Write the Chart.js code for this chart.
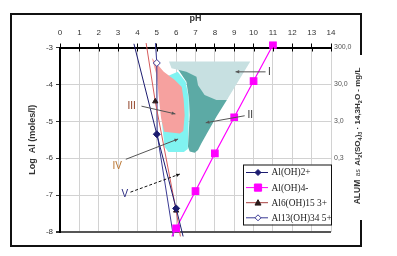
<!DOCTYPE html>
<html>
<head>
<meta charset="utf-8">
<script src="https://cdn.jsdelivr.net/npm/chart.js@4.4.1/dist/chart.umd.min.js"></script>
<style>
  body { margin: 0; background: #fff; }
  #chartCont { width: 397px; height: 256px; }
</style>
</head>
<body>
<div id="chartCont"><canvas id="myChart" width="397" height="256"></canvas></div>
<script>
// right hand scale: alum dose at the same gridlines as log Al
const alumTickValues = [-3, -4, -5, -6];
const alumTickLabels = ["300,0", "30,0", "3,0", "0,3"];

// species lines, pH vs log Al
const phAlOH2 = [3.82, 5.0, 6.0, 6.36];
const logAlOH2 = [-2.9, -5.35, -7.36, -8.12];
const phAlOH4 = [5.78, 6, 7, 8, 9, 10, 11];
const logAlOH4 = [-8.12, -7.9, -6.89, -5.87, -4.89, -3.91, -2.93];
const phAl6 = [4.45, 4.92, 6.0, 6.22];
const logAl6 = [-2.88, -4.46, -7.42, -8.12];
const phAl13 = [4.93, 5.0, 5.02, 5.86];
const logAl13 = [-2.88, -3.42, -5.35, -8.12];

// coagulation zones (outline points, pH / log Al)
const zone1X = [5.63, 9.83, 8.62, 8.08, 7.47, 7.13, 7.05, 6.53, 5.76];
const zone1Y = [-3.38, -3.38, -4.42, -4.42, -4.29, -4.02, -3.79, -3.66, -3.56];
const zone2X = [5.98, 6.53, 6.66, 6.70, 6.61, 6.70, 6.96, 7.13, 7.30, 7.64, 8.08, 8.62, 9.0, 7.5];
const zone2Y = [-3.5, -3.93, -4.38, -4.83, -5.69, -5.82, -5.85, -5.78, -5.6, -5.28, -4.88, -4.42, -3.6, -3.4];
const zone3X = [4.74, 5.0, 5.12, 5.22, 5.38, 6.19, 6.37, 6.44, 6.39, 6.29, 5.93, 5.36];
const zone3Y = [-3.28, -3.77, -4.42, -4.91, -5.28, -5.33, -5.26, -4.83, -4.42, -4.07, -3.88, -3.66];
const zone4X = [5.3, 5.4, 5.6, 6.4, 6.6, 6.65, 6.65, 6.49, 6.08, 5.57, 5.2];
const zone4Y = [-5.2, -5.69, -5.83, -5.83, -5.75, -4.96, -4.37, -3.93, -3.66, -3.77, -4.4];

// zone labels and their pointer lines
const noteText = ["I", "II", "III", "IV", "V"];
const noteTextX = [10.82, 9.83, 3.7, 2.95, 3.35];
const noteTextY = [-3.66, -4.83, -4.6, -6.23, -6.98];
const noteFromX = [10.62, 9.54, 4.21, 3.4, 3.64];
const noteFromY = [-3.66, -4.85, -4.59, -6.03, -6.92];
const noteToX = [9.07, 7.53, 5.96, 6.1, 6.19];
const noteToY = [-3.66, -5.04, -4.8, -5.48, -6.43];

const FONT = "'Liberation Sans', Arial, sans-serif";

function toPoints(xs, ys) {
  return xs.map((x, i) => ({ x: x, y: ys[i] }));
}

function markersAt(list, r) {
  return (c) => (list.includes(c.dataIndex) ? r : 0);
}

function alumLabel(v) {
  const i = alumTickValues.indexOf(v);
  return i >= 0 ? alumTickLabels[i] : "";
}

function zone(xs, ys, color) {
  return {
    data: toPoints(xs, ys),
    showLine: true,
    fill: "shape",
    backgroundColor: color,
    borderColor: "rgba(0,0,0,0)",
    borderWidth: 0,
    pointRadius: 0,
  };
}

function drawMarker(ctx, style, x, y, r) {
  ctx.beginPath();
  if (style === "rectRot") {
    ctx.moveTo(x, y - r); ctx.lineTo(x + r, y); ctx.lineTo(x, y + r); ctx.lineTo(x - r, y);
  } else if (style === "rect") {
    ctx.rect(x - r, y - r, 2 * r, 2 * r);
  } else {
    ctx.moveTo(x, y - r); ctx.lineTo(x + r, y + r * 0.8); ctx.lineTo(x - r, y + r * 0.8);
  }
  ctx.closePath();
  ctx.fill();
  ctx.stroke();
}

const datasets = [
  {
    label: "Al(OH)2+",
    data: toPoints(phAlOH2, logAlOH2),
    showLine: true,
    borderColor: "#1c1c70",
    borderWidth: 1,
    pointStyle: "rectRot",
    pointBackgroundColor: "#1c1c70",
    pointBorderColor: "#1c1c70",
    pointRadius: markersAt([1, 2], 3.5),
    clip: 6,
  },
  {
    label: "Al(OH)4-",
    data: toPoints(phAlOH4, logAlOH4),
    showLine: true,
    borderColor: "#ff00ff",
    borderWidth: 1.2,
    pointStyle: "rect",
    pointBackgroundColor: "#ff00ff",
    pointBorderColor: "#ff00ff",
    pointRadius: markersAt([1, 2, 3, 4, 5, 6], 4.6),
    clip: 6,
  },
  {
    label: "Al6(OH)15 3+",
    data: toPoints(phAl6, logAl6),
    showLine: true,
    borderColor: "#d65c5c",
    borderWidth: 1,
    pointStyle: "triangle",
    pointBackgroundColor: "#2a1a1a",
    pointBorderColor: "#2a1a1a",
    pointRadius: markersAt([1, 2], 3),
    clip: 6,
  },
  {
    label: "Al13(OH)34 5+",
    data: toPoints(phAl13, logAl13),
    showLine: true,
    borderColor: "#3a3a94",
    borderWidth: 1,
    pointStyle: "rectRot",
    pointBackgroundColor: "#ffffff",
    pointBorderColor: "#3a3a94",
    pointBorderWidth: 1,
    pointRadius: markersAt([1], 3.5),
    clip: 6,
  },
  zone(zone3X, zone3Y, "#f6a19f"),
  zone(zone1X, zone1Y, "#c7e0e1"),
  zone(zone2X, zone2Y, "#5caaa5"),
  zone(zone4X, zone4Y, "#80f3f1"),
];

// legend box sitting inside the plot, bottom right
const legendPlugin = {
  id: "boxLegend",
  afterDraw(chart) {
    const ctx = chart.ctx;
    const area = chart.chartArea;
    const w = 88, h = 60;
    const x0 = area.right - w, y0 = area.top + 117;
    ctx.save();
    ctx.fillStyle = "#fff";
    ctx.fillRect(x0, y0, w, h);
    ctx.strokeStyle = "#111";
    ctx.lineWidth = 1;
    ctx.strokeRect(x0 + 0.5, y0 + 0.5, w, h);
    const lineCols = ["#1c1c70", "#ff00ff", "#a84040", "#3a3a94"];
    for (let i = 0; i < 4; i++) {
      const ds = chart.data.datasets[i];
      const y = y0 + 8 + i * 15.1;
      ctx.strokeStyle = lineCols[i];
      ctx.lineWidth = 1;
      ctx.beginPath();
      ctx.moveTo(x0 + 3, y);
      ctx.lineTo(x0 + 25, y);
      ctx.stroke();
      ctx.fillStyle = ds.pointBackgroundColor;
      ctx.strokeStyle = ds.pointBorderColor;
      drawMarker(ctx, ds.pointStyle, x0 + 15, y, i === 1 ? 3.6 : 3);
      ctx.fillStyle = "#222";
      ctx.font = "9.4px 'Liberation Serif', 'Times New Roman', serif";
      ctx.textBaseline = "middle";
      ctx.textAlign = "left";
      ctx.fillText(ds.label, x0 + 28.5, y + 0.5);
    }
    ctx.restore();
  },
};

// zone labels I..V with their pointer lines
const notePlugin = {
  id: "notes",
  afterDatasetsDraw(chart) {
    const ctx = chart.ctx;
    const xs = chart.scales.x, ys = chart.scales.y;
    const colors = ["#333", "#333", "#8b3a1e", "#b8732e", "#2a2a80"];
    ctx.save();
    noteText.forEach((t, i) => {
      const x1 = xs.getPixelForValue(noteFromX[i]), y1 = ys.getPixelForValue(noteFromY[i]);
      const x2 = xs.getPixelForValue(noteToX[i]), y2 = ys.getPixelForValue(noteToY[i]);
      ctx.strokeStyle = i === 4 ? "#111" : "#555";
      ctx.lineWidth = 1;
      ctx.setLineDash(i === 4 ? [3, 2] : []);
      ctx.beginPath();
      ctx.moveTo(x1, y1);
      ctx.lineTo(x2, y2);
      ctx.stroke();
      ctx.setLineDash([]);
      // small arrow head at the zone end
      const a = Math.atan2(y2 - y1, x2 - x1);
      ctx.fillStyle = ctx.strokeStyle;
      ctx.beginPath();
      ctx.moveTo(x2, y2);
      ctx.lineTo(x2 - 4 * Math.cos(a - 0.45), y2 - 4 * Math.sin(a - 0.45));
      ctx.lineTo(x2 - 4 * Math.cos(a + 0.45), y2 - 4 * Math.sin(a + 0.45));
      ctx.closePath();
      ctx.fill();
      ctx.fillStyle = colors[i];
      ctx.font = "10px " + FONT;
      ctx.textAlign = "center";
      ctx.textBaseline = "middle";
      ctx.fillText(t, xs.getPixelForValue(noteTextX[i]), ys.getPixelForValue(noteTextY[i]));
    });
    ctx.restore();
  },
};

// outer frame, pH tick crosses and the rotated alum title
const framePlugin = {
  id: "frame",
  afterDraw(chart) {
    const ctx = chart.ctx;
    const area = chart.chartArea;
    const xs = chart.scales.x;
    ctx.save();
    ctx.strokeStyle = "#000";
    ctx.lineWidth = 1;
    for (let v = 0; v <= 14; v++) {
      const px = Math.round(xs.getPixelForValue(v)) + 0.5;
      ctx.beginPath();
      ctx.moveTo(px, area.top);
      ctx.lineTo(px, area.top + 4);
      ctx.stroke();
    }
    ctx.lineWidth = 2;
    ctx.strokeStyle = "#111";
    ctx.beginPath();
    ctx.moveTo(361, 55);
    ctx.lineTo(361, 14);
    ctx.lineTo(11, 14);
    ctx.lineTo(11, 246);
    ctx.lineTo(361, 246);
    ctx.lineTo(361, 220);
    ctx.stroke();

    const runs = [
      ["ALUM", "bold 8.5px", 0],
      ["  as  ", "6.5px", 0],
      ["Al", "bold 8px", 0],
      ["2", "bold 5.5px", 1],
      ["(SO", "bold 8px", 0],
      ["4", "bold 5.5px", 1],
      [")", "bold 8px", 0],
      ["3", "bold 5.5px", 1],
      [" \u00b7 14,3H", "bold 8px", 0],
      ["2", "bold 5.5px", 1],
      ["O - mg/L", "bold 8px", 0],
    ];
    ctx.translate(358, 136);
    ctx.rotate(-Math.PI / 2);
    ctx.fillStyle = "#333";
    ctx.textBaseline = "middle";
    ctx.textAlign = "left";
    let total = 0;
    runs.forEach((r) => {
      ctx.font = r[1] + " " + FONT;
      total += ctx.measureText(r[0]).width;
    });
    let x = -total / 2;
    runs.forEach((r) => {
      ctx.font = r[1] + " " + FONT;
      ctx.fillText(r[0], x, r[2] ? 2.5 : 0);
      x += ctx.measureText(r[0]).width;
    });
    ctx.restore();
  },
};

const gridColor = (c) => (c.tick && c.tick.value === -8 ? "#555" : "#d2d2d2");
const gridWidth = (c) => (c.tick && c.tick.value === -8 ? 2 : 1);

const ctx = document.getElementById("myChart");
const chart = new Chart(ctx, {
  type: "scatter",
  data: { datasets: datasets },
  options: {
    responsive: false,
    animation: false,
    layout: { padding: { left: 0, top: 0, right: 0, bottom: 24 } },
    plugins: {
      legend: { display: false },
      tooltip: { enabled: false },
    },
    scales: {
      x: {
        type: "linear",
        position: "top",
        min: 0,
        max: 14,
        ticks: { stepSize: 1, color: "#333", font: { size: 8, family: FONT }, padding: 5.5, maxRotation: 0 },
        grid: { color: "#d2d2d2", tickLength: 4, tickColor: "#000" },
        border: { color: "#000", width: 2 },
        title: {
          display: true,
          text: "pH",
          color: "#333",
          font: { size: 9, weight: "bold", family: FONT },
          padding: { top: 13, bottom: 0 },
        },
        afterFit: (s) => { s.height = 47.5; },
      },
      y: {
        position: "left",
        min: -8,
        max: -3,
        ticks: { stepSize: 1, color: "#333", font: { size: 8, family: FONT }, padding: 3 },
        grid: { color: gridColor, lineWidth: gridWidth, tickLength: 4, tickColor: "#333" },
        border: { color: "#000", width: 2 },
        title: {
          display: true,
          text: "Log  Al (moles/l)",
          color: "#333",
          font: { size: 9, weight: "bold", family: FONT },
          padding: { top: 27.6, bottom: 0 },
        },
        afterFit: (s) => { s.width = 60; },
      },
      yAlum: {
        position: "right",
        min: -8,
        max: -3,
        ticks: { stepSize: 1, color: "#555", font: { size: 7, family: FONT }, padding: 3, callback: (v) => alumLabel(v) },
        grid: { display: false, drawTicks: false },
        border: { display: false },
        afterFit: (s) => { s.width = 66; },
      },
    },
  },
  plugins: [notePlugin, legendPlugin, framePlugin],
});
</script>
</body>
</html>
